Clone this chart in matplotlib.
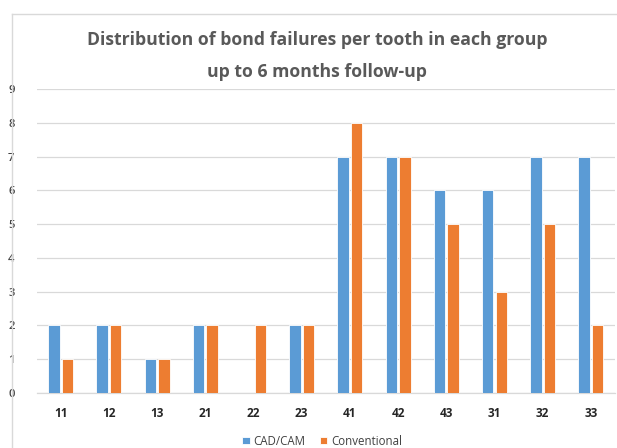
import matplotlib
matplotlib.use("Agg")
import matplotlib.pyplot as plt
from matplotlib.lines import Line2D
import numpy as np

teeth = ["11", "12", "13", "21", "22", "23", "41", "42", "43", "31", "32", "33"]
cadcam = [2, 2, 1, 2, 0, 2, 7, 7, 6, 6, 7, 7]
conventional = [1, 2, 1, 2, 2, 2, 8, 7, 5, 3, 5, 2]
y_ticks = list(range(0, 10))

BLUE = "#5B9BD5"
ORANGE = "#ED7D31"
W, H = 617, 448

plt.rcParams["font.family"] = ["Open Sans", "DejaVu Sans"]

fig = plt.figure(figsize=(W / 100, H / 100), dpi=100)
fig.patch.set_facecolor("white")

# chart frame (top and left edges only; the rest runs off the canvas)
fy = 1 - 14 / H
fx = 12 / W
fig.add_artist(Line2D([fx, 1.0], [fy, fy], transform=fig.transFigure, color="#d9d9d9", linewidth=1.0))
fig.add_artist(Line2D([fx, fx], [0.0, fy], transform=fig.transFigure, color="#d9d9d9", linewidth=1.0))

left, right = 36.6, 615.0
bottom, top = 393.0, 89.0
ax = fig.add_axes([left / W, 1 - bottom / H, (right - left) / W, (bottom - top) / H])
ax.set_facecolor("none")

x = np.arange(len(teeth))
bw = 0.235
off = 0.142
ax.bar(x - off, cadcam, width=bw, color=BLUE, edgecolor="white", linewidth=0.6, label="CAD/CAM", zorder=3)
ax.bar(x + off, conventional, width=bw, color=ORANGE, edgecolor="white", linewidth=0.6, label="Conventional", zorder=3)

ax.set_xlim(-0.5, len(teeth) - 0.5)
ax.set_ylim(0, 9)
ax.set_yticks(y_ticks)
ax.set_yticklabels([str(v) for v in y_ticks], color="#404040", fontsize=8, fontweight="semibold")
ax.set_xticks(x)
ax.set_xticklabels(teeth, color="#262626", fontsize=8.5, fontweight="bold")
ax.tick_params(axis="both", length=0)
ax.tick_params(axis="y", pad=16)
ax.tick_params(axis="x", pad=10)
ax.grid(axis="y", color="#d9d9d9", linewidth=0.9, zorder=0)
for s in ["top", "right", "left"]:
    ax.spines[s].set_visible(False)
ax.spines["bottom"].set_color("#d9d9d9")
ax.spines["bottom"].set_linewidth(0.9)

fig.text(317 / W, 1 - 40 / H, "Distribution of bond failures per tooth in each group",
         ha="center", va="center", fontsize=12.7, fontweight="bold", color="#595959")
fig.text(317 / W, 1 - 72 / H, "up to 6 months follow-up",
         ha="center", va="center", fontsize=12.7, fontweight="bold", color="#595959")

fig.legend(loc="center", bbox_to_anchor=(322 / W, 1 - 441 / H), ncol=2, frameon=False,
           fontsize=8.3, handlelength=0.65, handleheight=0.65, handletextpad=0.3,
           columnspacing=1.3, labelcolor="#404040")

fig.savefig("out.png", dpi=100, facecolor="white")
